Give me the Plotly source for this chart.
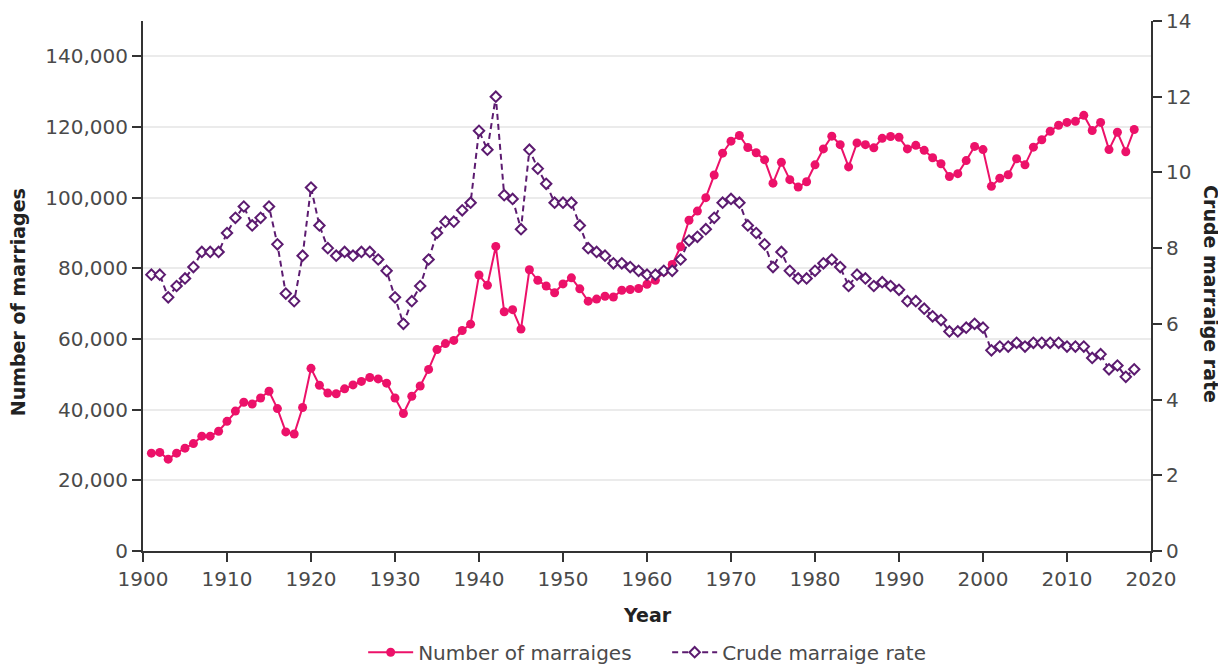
import plotly.graph_objects as go

years = list(range(1901, 2019))

marriages = [
    27700, 27900, 26000, 27700, 29100, 30400, 32500, 32500, 33900, 36700,
    39600, 42100, 41600, 43300, 45200, 40300, 33700, 33100, 40600, 51700,
    46900, 44700, 44500, 45900, 47000, 48000, 49100, 48700, 47500, 43300,
    38900, 43800, 46700, 51400, 57000, 58700, 59600, 62400, 64200, 78100,
    75200, 86200, 67700, 68300, 62800, 79600, 76600, 75000, 73100, 75600,
    77300, 74200, 70700, 71300, 72100, 71900, 73800, 74000, 74300, 75500,
    76600, 79000, 81100, 86100, 93600, 96200, 100000, 106400, 112600, 116000,
    117600, 114200, 112700, 110700, 104100, 110000, 105100, 103000, 104500, 109300,
    113800, 117400, 115000, 108700, 115500, 115000, 114100, 116800, 117300, 117100,
    113800, 114800, 113400, 111300, 109600, 106000, 106800, 110500, 114500, 113600,
    103200, 105500, 106500, 111000, 109300, 114300, 116400, 118800, 120500, 121300,
    121600, 123300, 119000, 121300, 113600, 118500, 113000, 119300,
]

crude_rate = [
    7.3, 7.3, 6.7, 7.0, 7.2, 7.5, 7.9, 7.9, 7.9, 8.4,
    8.8, 9.1, 8.6, 8.8, 9.1, 8.1, 6.8, 6.6, 7.8, 9.6,
    8.6, 8.0, 7.8, 7.9, 7.8, 7.9, 7.9, 7.7, 7.4, 6.7,
    6.0, 6.6, 7.0, 7.7, 8.4, 8.7, 8.7, 9.0, 9.2, 11.1,
    10.6, 12.0, 9.4, 9.3, 8.5, 10.6, 10.1, 9.7, 9.2, 9.2,
    9.2, 8.6, 8.0, 7.9, 7.8, 7.6, 7.6, 7.5, 7.4, 7.3,
    7.3, 7.4, 7.4, 7.7, 8.2, 8.3, 8.5, 8.8, 9.2, 9.3,
    9.2, 8.6, 8.4, 8.1, 7.5, 7.9, 7.4, 7.2, 7.2, 7.4,
    7.6, 7.7, 7.5, 7.0, 7.3, 7.2, 7.0, 7.1, 7.0, 6.9,
    6.6, 6.6, 6.4, 6.2, 6.1, 5.8, 5.8, 5.9, 6.0, 5.9,
    5.3, 5.4, 5.4, 5.5, 5.4, 5.5, 5.5, 5.5, 5.5, 5.4,
    5.4, 5.4, 5.1, 5.2, 4.8, 4.9, 4.6, 4.8,
]

x_ticks = list(range(1900, 2021, 10))
left_ticks = list(range(0, 140001, 20000))
left_labels = [f"{v:,}" for v in left_ticks]
right_ticks = list(range(0, 15, 2))

PINK = "#EC1169"
PURPLE = "#5C1B70"
TICK_FONT = dict(family="DejaVu Sans", size=20, color="#4a4a4a")
TITLE_FONT = dict(family="DejaVu Sans", size=19, color="#222222")

fig = go.Figure()
fig.add_trace(go.Scatter(
    x=years, y=marriages, name="Number of marraiges",
    mode="lines+markers",
    line=dict(color=PINK, width=2),
    marker=dict(symbol="circle", size=9, color=PINK),
    yaxis="y",
))
fig.add_trace(go.Scatter(
    x=years, y=crude_rate, name="Crude marraige rate",
    mode="lines+markers",
    line=dict(color=PURPLE, width=2, dash="6px,4px"),
    marker=dict(symbol="diamond", size=8, color="white",
                line=dict(color=PURPLE, width=2)),
    yaxis="y2",
))

axis_common = dict(
    showline=True, linecolor="#333333", linewidth=2,
    ticks="outside", ticklen=9, tickwidth=2, tickcolor="#333333",
    tickfont=TICK_FONT, zeroline=False, automargin=False,
)

fig.update_layout(
    width=1218, height=658,
    margin=dict(l=135, r=75, t=13, b=115, autoexpand=False),
    plot_bgcolor="white", paper_bgcolor="white",
    hovermode=False,
    xaxis=dict(range=[1900, 2020], tickvals=x_ticks, showgrid=False, **axis_common),
    yaxis=dict(range=[0, 150000], tickvals=left_ticks, ticktext=left_labels,
               showgrid=True, gridcolor="#ebebeb", gridwidth=1.5, **axis_common),
    yaxis2=dict(range=[0, 14], tickvals=right_ticks, overlaying="y", side="right",
                anchor="x", showgrid=False, **axis_common),
    legend=dict(orientation="h", x=0.52, xanchor="center", y=-0.191, yanchor="middle",
                font=dict(family="DejaVu Sans", size=20, color="#4a4a4a"),
                itemwidth=45, entrywidth=244, entrywidthmode="pixels"),
    annotations=[
        dict(text="<b>Number of marriages</b>", xref="paper", yref="paper",
             x=-0.1237, y=0.47, textangle=-90, showarrow=False,
             xanchor="center", yanchor="middle", font=TITLE_FONT),
        dict(text="<b>Crude marraige rate</b>", xref="paper", yref="paper",
             x=1.0589, y=0.484, textangle=90, showarrow=False,
             xanchor="center", yanchor="middle", font=TITLE_FONT),
        dict(text="<b>Year</b>", xref="paper", yref="paper",
             x=0.5, y=-0.12, showarrow=False,
             xanchor="center", yanchor="middle", font=TITLE_FONT),
    ],
)

fig.write_html("out.html")
